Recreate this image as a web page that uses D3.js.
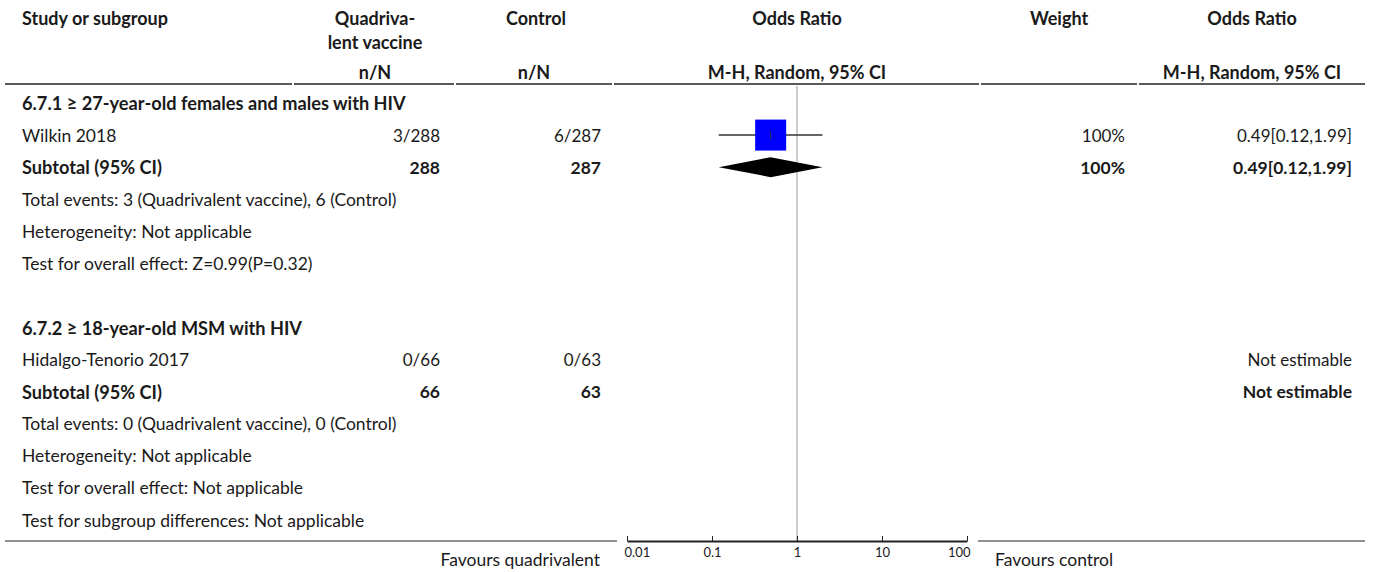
<!DOCTYPE html>
<html lang="en">
<head>
  <meta charset="UTF-8">
  <title>Forest plot 6.7</title>
  <style>
    body { margin: 0; background: #fff; }
    text { font-family: Lato, "Noto Sans", sans-serif; fill: #1a1a1a; }
    .hdr { font-weight: bold; font-size: 18px; }
    .label { font-size: 17.5px; }
    .label.bold { font-weight: bold; font-size: 18.2px; }
    .num { font-size: 17px; }
    .num.bold { font-weight: bold; font-size: 17.5px; }
  </style>
</head>
<body>
  <div id="chart"></div>
  <script src="https://d3js.org/d3.v7.min.js"></script>
  <script>
    const width = 1375, height = 572;

    // 数据
    const subgroupTitles = ["6.7.1 \u2265 27-year-old females and males with HIV", "6.7.2 \u2265 18-year-old MSM with HIV"];
    const studyNames = ["Wilkin 2018", "Hidalgo-Tenorio 2017"];
    const vacEvents = [3, 0];
    const vacTotals = [288, 66];
    const ctlEvents = [6, 0];
    const ctlTotals = [287, 63];
    const studyOR = [0.49, null];
    const studyLow = [0.12, null];
    const studyHigh = [1.99, null];
    const studyWeight = ["100%", ""];
    const subtotalWeight = ["100%", ""];
    const totalEventsText = [
      "Total events: 3 (Quadrivalent vaccine), 6 (Control)",
      "Total events: 0 (Quadrivalent vaccine), 0 (Control)"
    ];
    const heterogeneityText = ["Heterogeneity: Not applicable", "Heterogeneity: Not applicable"];
    const overallEffectText = ["Test for overall effect: Z=0.99(P=0.32)", "Test for overall effect: Not applicable"];
    const subgroupDiffText = "Test for subgroup differences: Not applicable";
    const axisTicks = [0.01, 0.1, 1, 10, 100];
    const favoursLeft = "Favours quadrivalent";
    const favoursRight = "Favours control";

    const svg = d3.select("#chart").append("svg")
      .attr("width", width).attr("height", height);

    // 比例尺
    const x = d3.scaleLog().domain([0.01, 100]).range([627, 967]);
    const y = d3.scaleLinear().domain([0, 13]).range([103, 520]);

    const fmtCI = (o, l, h) => `${o.toFixed(2)}[${l.toFixed(2)},${h.toFixed(2)}]`;

    // 表头
    function header() {
      const g = svg.append("g").attr("class", "hdr");
      const put = (t, xx, yy, anchor) => g.append("text")
        .attr("x", xx).attr("y", yy).attr("text-anchor", anchor)
        .attr("dominant-baseline", "central").text(t);
      put("Study or subgroup", 22, 18, "start");
      put("Quadriva-", 375, 18, "middle");
      put("lent vaccine", 375, 42, "middle");
      put("Control", 536, 18, "middle");
      put("Odds Ratio", 797, 18, "middle");
      put("Weight", 1059, 18, "middle");
      put("Odds Ratio", 1252, 18, "middle");
      put("n/N", 375, 72, "middle");
      put("n/N", 534, 72, "middle");
      put("M-H, Random, 95% CI", 797, 72, "middle");
      put("M-H, Random, 95% CI", 1252, 72, "middle");

      const segs = [[5, 292], [294, 454], [456, 612], [614, 979], [981, 1137], [1139, 1365]];
      svg.selectAll(".hline").data(segs).enter().append("line")
        .attr("x1", d => d[0]).attr("x2", d => d[1])
        .attr("y1", 84).attr("y2", 84)
        .attr("stroke", "#222").attr("stroke-width", 1.5);
    }

    // 构建行
    function buildRows() {
      const rows = [];
      let i = 0;
      subgroupTitles.forEach((title, k) => {
        rows.push({ idx: i++, type: "title", label: title });
        rows.push({ idx: i++, type: "study", label: studyNames[k],
          vac: `${vacEvents[k]}/${vacTotals[k]}`, ctl: `${ctlEvents[k]}/${ctlTotals[k]}`,
          or: studyOR[k], lo: studyLow[k], hi: studyHigh[k], w: studyWeight[k] });
        rows.push({ idx: i++, type: "subtotal", label: "Subtotal (95% CI)",
          vac: `${vacTotals[k]}`, ctl: `${ctlTotals[k]}`,
          or: studyOR[k], lo: studyLow[k], hi: studyHigh[k], w: subtotalWeight[k] });
        rows.push({ idx: i++, type: "note", label: totalEventsText[k] });
        rows.push({ idx: i++, type: "note", label: heterogeneityText[k] });
        rows.push({ idx: i++, type: "note", label: overallEffectText[k] });
        if (k === 0) i++; // 空行
      });
      rows.push({ idx: i++, type: "note", label: subgroupDiffText });
      return rows;
    }

    function drawRows(rows) {
      const g = svg.append("g");
      rows.forEach(r => {
        const bold = r.type === "title" || r.type === "subtotal";
        const put = (t, xx, anchor, cls) => g.append("text")
          .attr("class", cls)
          .attr("x", xx).attr("y", y(r.idx)).attr("text-anchor", anchor)
          .attr("dominant-baseline", "central")
          .classed("bold", bold).text(t);
        put(r.label, 22, "start", "label");
        if (r.type === "study" || r.type === "subtotal") {
          put(r.vac, 440, "end", "num");
          put(r.ctl, 601, "end", "num");
          if (r.or != null) {
            put(r.w, 1125, "end", "num");
            put(fmtCI(r.or, r.lo, r.hi), 1352, "end", "num");
          } else {
            put("Not estimable", 1352, "end", "num");
          }
        }
      });
    }

    function drawPlot(rows) {
      // 无效线
      svg.append("line")
        .attr("x1", x(1)).attr("x2", x(1))
        .attr("y1", 86).attr("y2", 541)
        .attr("stroke", "#999").attr("stroke-width", 1);

      const studies = rows.filter(r => r.type === "study" && r.or != null);
      studies.forEach(r => {
        const cy = y(r.idx);
        svg.append("line")
          .attr("x1", x(r.lo)).attr("x2", x(r.hi))
          .attr("y1", cy).attr("y2", cy)
          .attr("stroke", "#333").attr("stroke-width", 1.5);
        svg.append("rect")
          .attr("x", x(r.or) - 15.5).attr("y", cy - 15.5)
          .attr("width", 31).attr("height", 31)
          .attr("fill", "#0000ff");
        svg.append("line")
          .attr("x1", x(r.or)).attr("x2", x(r.or))
          .attr("y1", cy - 4).attr("y2", cy + 4)
          .attr("stroke", "#333").attr("stroke-width", 1);
      });

      const subs = rows.filter(r => r.type === "subtotal" && r.or != null);
      svg.selectAll(".diamond").data(subs).enter().append("path")
        .attr("class", "diamond")
        .attr("d", r => {
          const cy = y(r.idx);
          return `M${x(r.lo)},${cy}L${x(r.or)},${cy - 10}L${x(r.hi)},${cy}L${x(r.or)},${cy + 10}Z`;
        })
        .attr("fill", "#000");
    }

    function drawAxis() {
      const ay = 541;
      [[5, 617], [978, 1365]].forEach(s => {
        svg.append("line").attr("x1", s[0]).attr("x2", s[1])
          .attr("y1", ay).attr("y2", ay)
          .attr("stroke", "#222").attr("stroke-width", 1.2);
      });
      const axis = d3.axisBottom(x)
        .tickValues(axisTicks)
        .tickFormat(d => String(d))
        .tickSizeInner(-5).tickSizeOuter(0).tickPadding(7);
      const g = svg.append("g").attr("transform", `translate(0,${ay})`).call(axis);
      g.select(".domain").attr("stroke", "#222").attr("stroke-width", 2);
      g.selectAll(".tick line").attr("stroke", "#222");
      g.selectAll(".tick text").attr("fill", "#1a1a1a")
        .style("font-family", "Lato, sans-serif").style("font-size", "13px")
        .attr("text-anchor", (d, i) => i === 0 ? "start" : i === axisTicks.length - 1 ? "end" : "middle")
        .attr("dx", (d, i) => i === 0 ? -3 : i === axisTicks.length - 1 ? 3 : 0);

      svg.append("text").attr("class", "label")
        .attr("x", 600).attr("y", 559).attr("text-anchor", "end")
        .attr("dominant-baseline", "central").text(favoursLeft);
      svg.append("text").attr("class", "label")
        .attr("x", 995).attr("y", 559).attr("text-anchor", "start")
        .attr("dominant-baseline", "central").text(favoursRight);
    }

    header();
    const rows = buildRows();
    drawRows(rows);
    drawPlot(rows);
    drawAxis();
  </script>
</body>
</html>
